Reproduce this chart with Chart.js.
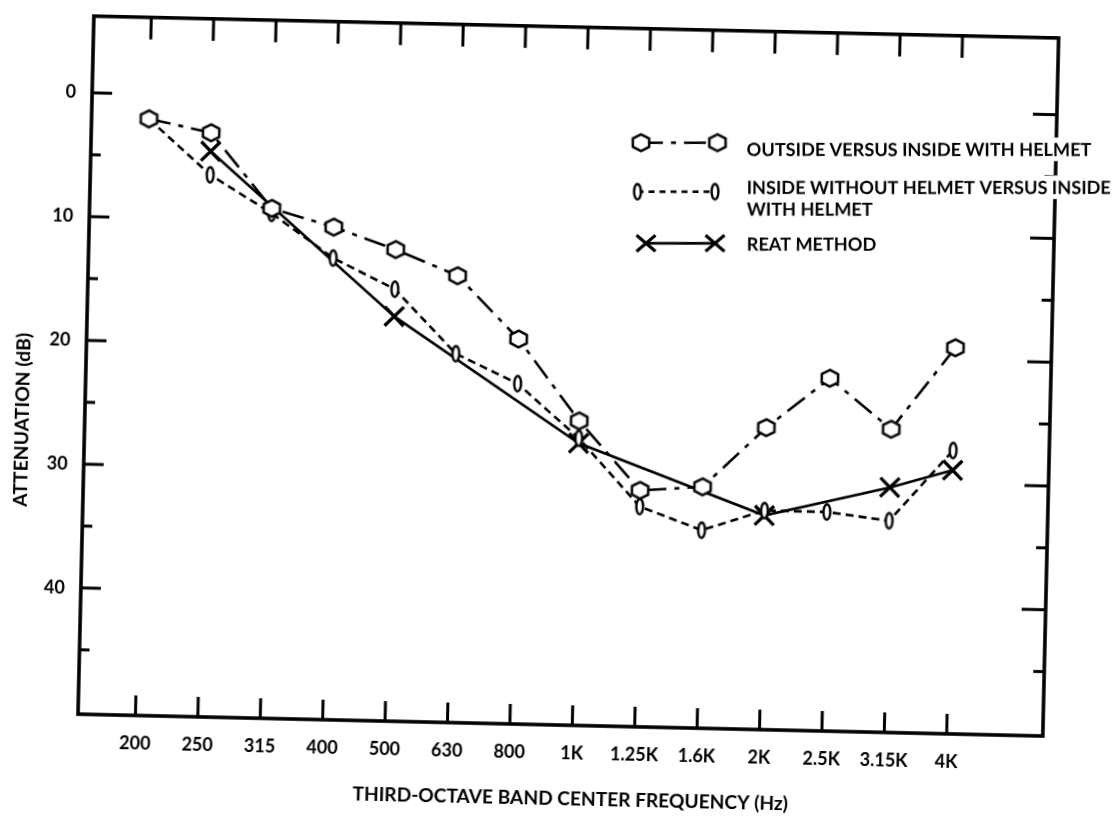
<!DOCTYPE html>
<html>
<head>
<meta charset="utf-8">
<title>Helmet attenuation by third-octave band</title>
<script src="https://cdn.jsdelivr.net/npm/chart.js@4.4.1/dist/chart.umd.min.js"></script>
<style>
  html, body { margin: 0; padding: 0; background: #fff; overflow: hidden; }
  #chart { position: absolute; left: 0; top: 0; }
</style>
</head>
<body>
<canvas id="chart" width="1120" height="825"></canvas>
<script>
// Third-octave band centre frequencies (category axis)
const bandLabels = ['200', '250', '315', '400', '500', '630', '800', '1K', '1.25K', '1.6K', '2K', '2.5K', '3.15K', '4K'];

// Attenuation in dB for each band
const outsideVsInside = [2.0, 3.0, 9.0, 10.4, 12.1, 14.1, 19.1, 25.6, 31.1, 30.7, 25.8, 21.7, 25.7, 19.0];
const insideNoHelmet  = [2.0, 6.4, 9.4, 12.9, 15.3, 20.4, 22.7, 27.0, 32.4, 34.2, 32.5, 32.5, 33.1, 27.3];
const reatMethod      = [null, 4.5, null, null, 17.5, null, null, 27.4, null, null, 32.9, null, 30.4, 28.9];

// Axis ticks
const yLabelValues = [0, 10, 20, 30, 40];
const yTickMarks   = [0, 5, 10, 15, 20, 25, 30, 35, 40, 45];

// Legend wording
const legendOutside = ['OUTSIDE VERSUS INSIDE WITH HELMET'];
const legendInside  = ['INSIDE WITHOUT HELMET VERSUS INSIDE', 'WITH HELMET'];
const legendReat    = ['REAT METHOD'];

const axisTitleX = 'THIRD-OCTAVE BAND CENTER FREQUENCY (Hz)';
const axisTitleY = 'ATTENUATION (dB)';

// The printed sheet sits slightly askew on the page
const TILT_DEG = 1.3;
const W = 1120, H = 825, CX = W / 2, CY = H / 2;
const FONT = 'Lato, "DejaVu Sans", sans-serif';
const DASH_DOT = [22, 8, 5, 8];
const DASHED = [8, 5];
const LINE_W = 2.6;

const canvas = document.getElementById('chart');
canvas.style.transformOrigin = CX + 'px ' + CY + 'px';
canvas.style.transform = 'rotate(' + TILT_DEG + 'deg)';

// ---- marker glyphs ----
function hexMarker() {
  const c = document.createElement('canvas');
  c.width = 24; c.height = 24;
  const g = c.getContext('2d');
  g.lineWidth = 2.5; g.strokeStyle = '#000'; g.fillStyle = '#fff'; g.lineJoin = 'miter';
  g.beginPath();
  for (let k = 0; k < 6; k++) {
    const a = -Math.PI / 2 + k * Math.PI / 3;
    const px = 12 + 9.4 * Math.cos(a), py = 12 + 8.4 * Math.sin(a);
    if (k === 0) g.moveTo(px, py); else g.lineTo(px, py);
  }
  g.closePath(); g.fill(); g.stroke();
  return c;
}
function lensMarker() {
  const c = document.createElement('canvas');
  c.width = 14; c.height = 24;
  const g = c.getContext('2d');
  g.lineWidth = 2.4; g.strokeStyle = '#000'; g.fillStyle = '#fff';
  g.beginPath();
  g.ellipse(7, 12, 3.4, 7.7, 0, 0, Math.PI * 2);
  g.fill(); g.stroke();
  return c;
}
const HEX = hexMarker();
const LENS = lensMarker();

const toPoints = arr => arr.map((v, i) => (v === null ? null : { x: i, y: v })).filter(p => p);

function fitSize(ctx, text, width, weight) {
  ctx.font = weight + ' 100px ' + FONT;
  return 100 * width / ctx.measureText(text).width;
}
function seg(ctx, x1, y1, x2, y2) {
  ctx.beginPath(); ctx.moveTo(x1, y1); ctx.lineTo(x2, y2); ctx.stroke();
}

// Frame with inward tick marks on all four sides
const framePlugin = {
  id: 'frame',
  beforeDatasetsDraw(chart) {
    const { ctx, chartArea: a, scales: { x, y } } = chart;
    ctx.save();
    ctx.strokeStyle = '#000';
    ctx.lineWidth = 3;
    bandLabels.forEach((_, i) => {
      const px = x.getPixelForValue(i);
      seg(ctx, px, a.bottom, px, a.bottom - 20);
      seg(ctx, px, a.top, px, a.top + 22);
    });
    yTickMarks.forEach(v => {
      const py = y.getPixelForValue(v);
      const major = v % 10 === 0;
      seg(ctx, a.left, py, a.left + (major ? 20 : 10), py);
      seg(ctx, a.right, py, a.right - (major ? 24 : 11), py);
    });
    ctx.lineWidth = 3.6;
    ctx.lineJoin = 'miter';
    ctx.strokeRect(a.left, a.top, a.right - a.left, a.bottom - a.top);
    ctx.restore();
  },
  afterDraw(chart) {
    const { ctx } = chart;
    ctx.save();
    ctx.fillStyle = '#000';

    // axis titles
    let s = fitSize(ctx, axisTitleX, 436, 'bold');
    ctx.font = 'bold ' + s + 'px ' + FONT;
    ctx.textAlign = 'center'; ctx.textBaseline = 'middle';
    ctx.fillText(axisTitleX, 579, 799);

    s = fitSize(ctx, axisTitleY, 174, 'bold');
    ctx.save();
    ctx.translate(22.5, 432);
    ctx.rotate(-Math.PI / 2);
    ctx.font = 'bold ' + s + 'px ' + FONT;
    ctx.fillText(axisTitleY, 0, 0);
    ctx.restore();

    // legend block is pasted level on the page
    ctx.translate(CX, CY);
    ctx.rotate(-TILT_DEG * Math.PI / 180);
    ctx.translate(-CX, -CY);

    const size = fitSize(ctx, legendOutside[0], 345, 'bold');
    const font = 'bold ' + size + 'px ' + FONT;
    const rows = [
      { text: legendOutside, my: 142.7, x1: 641, x2: 717.5, base: [156], dash: DASH_DOT, mark: 'hex' },
      { text: legendInside, my: 191.7, x1: 637.5, x2: 715, base: [194, 215.7], dash: [6, 5], mark: 'lens' },
      { text: legendReat, my: 243.3, x1: 646, x2: 715, base: [250.7], dash: [], mark: 'x' }
    ];
    const textX = 746.7;
    ctx.font = font;
    ctx.textAlign = 'left'; ctx.textBaseline = 'alphabetic';
    rows.forEach(r => {
      // white label backing
      r.text.forEach((t, k) => {
        const w = ctx.measureText(t).width;
        ctx.fillStyle = '#fff';
        ctx.fillRect(textX - 4, r.base[k] - size * 0.74 - 5, w + 8, size * 0.74 + 10);
      });
      ctx.fillStyle = '#000';
      r.text.forEach((t, k) => ctx.fillText(t, textX, r.base[k]));

      ctx.strokeStyle = '#000';
      ctx.lineWidth = LINE_W;
      ctx.setLineDash(r.dash);
      seg(ctx, r.x1, r.my, r.x2, r.my);
      ctx.setLineDash([]);
      [r.x1, r.x2].forEach(mx => {
        if (r.mark === 'hex') ctx.drawImage(HEX, mx - HEX.width / 2, r.my - HEX.height / 2);
        else if (r.mark === 'lens') ctx.drawImage(LENS, mx - LENS.width / 2, r.my - LENS.height / 2);
        else {
          ctx.lineWidth = 3.2;
          const d = 9.5;
          seg(ctx, mx - d, r.my - d * 0.85, mx + d, r.my + d * 0.85);
          seg(ctx, mx - d, r.my + d * 0.85, mx + d, r.my - d * 0.85);
        }
      });
    });
    ctx.restore();
  }
};

const tickFont = { family: FONT, weight: 'bold', size: 18 };

new Chart(canvas, {
  type: 'line',
  data: {
    datasets: [
      {
        label: legendOutside.join(' '),
        data: toPoints(outsideVsInside),
        borderColor: '#000', borderWidth: LINE_W, borderDash: DASH_DOT,
        pointStyle: HEX, pointRadius: 9, fill: false, tension: 0
      },
      {
        label: legendInside.join(' '),
        data: toPoints(insideNoHelmet),
        borderColor: '#000', borderWidth: LINE_W, borderDash: DASHED,
        pointStyle: LENS, pointRadius: 8, fill: false, tension: 0
      },
      {
        label: legendReat.join(' '),
        data: toPoints(reatMethod),
        borderColor: '#000', borderWidth: LINE_W,
        pointStyle: 'crossRot', pointRadius: 13.5, pointBorderWidth: 3.3,
        pointBorderColor: '#000', fill: false, tension: 0
      }
    ]
  },
  options: {
    responsive: false,
    animation: false,
    devicePixelRatio: 1,
    layout: { padding: { left: 0, top: 21, right: 70, bottom: 0 } },
    plugins: { legend: { display: false }, tooltip: { enabled: false } },
    scales: {
      x: {
        type: 'linear',
        min: -0.92, max: 14.54,
        grid: { display: false, drawTicks: false },
        border: { display: false },
        afterBuildTicks: sc => { sc.ticks = bandLabels.map((_, i) => ({ value: i })); },
        afterFit: sc => { sc.height = 100; },
        ticks: {
          autoSkip: false, maxRotation: 0, minRotation: 0,
          padding: 17, color: '#000', font: tickFont,
          callback: v => bandLabels[v]
        }
      },
      y: {
        type: 'linear',
        reverse: true,
        min: -6.2, max: 50.2,
        grid: { display: false, drawTicks: false },
        border: { display: false },
        afterBuildTicks: sc => { sc.ticks = yLabelValues.map(v => ({ value: v })); },
        afterFit: sc => { sc.width = 85; },
        ticks: { padding: 16, color: '#000', font: tickFont, callback: v => String(v) }
      }
    }
  },
  plugins: [framePlugin]
});
</script>
</body>
</html>
